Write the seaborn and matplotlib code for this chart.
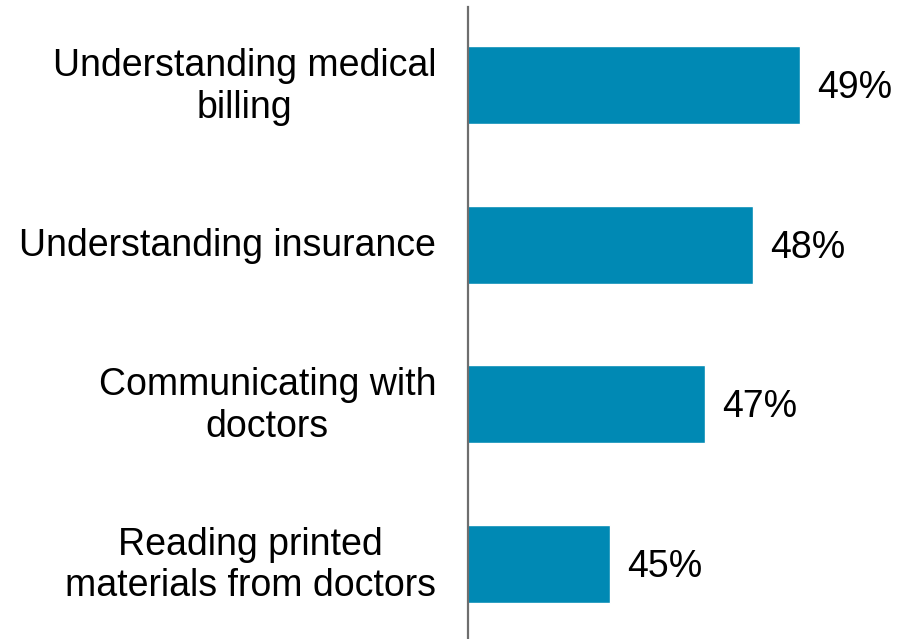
import matplotlib
matplotlib.use("Agg")
import matplotlib.pyplot as plt
import matplotlib.transforms as mtrans
import seaborn as sns
import pandas as pd

categories = ["Understanding medical\nbilling", "Understanding insurance",
              "Communicating with\ndoctors", "Reading printed\nmaterials from doctors"]
values = [49, 48, 47, 45]
value_labels = ["49%", "48%", "47%", "45%"]

sns.set_theme(style="white")
plt.rcParams['font.family'] = ['Liberation Sans', 'DejaVu Sans']

df = pd.DataFrame({"cat": categories, "val": values})

fig = plt.figure(figsize=(9.05, 6.39), dpi=100)
ax = fig.add_axes([468/905, 0, 1 - 468/905, 1 - 7/639])
sns.barplot(data=df, x="val", y="cat", color="#0089B4", width=0.49,
            saturation=1, ax=ax, orient="h")
ax.set_xlim(42, 51.2)
ax.set_ylim(3.47, -0.49)
ax.set_xlabel("")
ax.set_ylabel("")
ax.set_xticks([])
for s in ["top", "right", "bottom"]:
    ax.spines[s].set_visible(False)
ax.spines["left"].set_color("#6e6e6e")
ax.spines["left"].set_linewidth(1.6)
ax.set_yticks(range(len(categories)))
ax.set_yticklabels([])
ax.tick_params(axis="y", length=0)

trans = mtrans.blended_transform_factory(fig.transFigure, ax.transData)
for i, cat in enumerate(categories):
    ax.text(436/905, i + 0.01, cat, transform=trans, ha="right", va="center",
            multialignment="center", fontsize=27, color="black",
            linespacing=1.2)

for i, (v, lab) in enumerate(zip(values, value_labels)):
    ax.annotate(lab, xy=(v, i), xytext=(12, -2), textcoords="offset points",
                va="center", ha="left", fontsize=27, color="black")
fig.savefig("out.png", dpi=100)
